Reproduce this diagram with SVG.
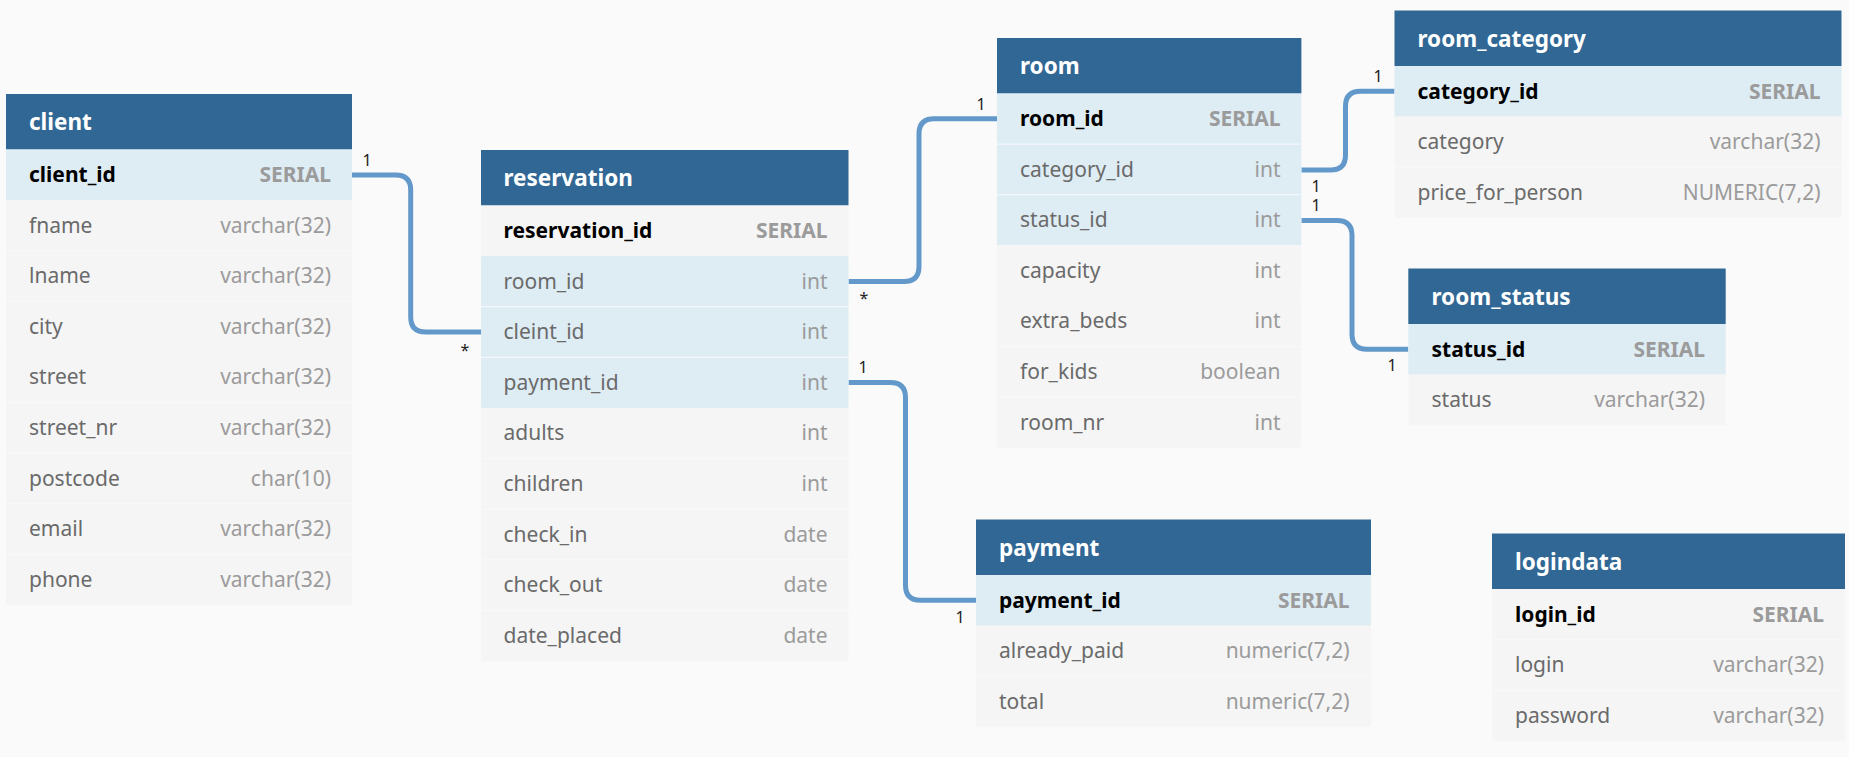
<svg xmlns="http://www.w3.org/2000/svg" width="1849" height="757" viewBox="0 0 1849 757">
<style>
  .bg{fill:#fafafa}
  .hd{fill:#316794}
  .row{fill:#f5f5f5}
  .hl{fill:#deecf4}
  .sep{stroke:#f9f9f9;stroke-width:1}
  .ht{font-family:"Noto Sans","Open Sans",sans-serif;font-size:22.5px;font-weight:bold;fill:#ffffff}
  .pk{font-family:"Noto Sans","Open Sans",sans-serif;font-size:21px;font-weight:bold;fill:#000000}
  .fn{font-family:"Noto Sans","Open Sans",sans-serif;font-size:21px;fill:#6a6a6a}
  .ty{font-family:"Noto Sans","Open Sans",sans-serif;font-size:21px;fill:#9b9b9b;text-anchor:end}
  .tyb{font-family:"Noto Sans","Open Sans",sans-serif;font-size:21px;font-weight:bold;fill:#9b9b9b;text-anchor:end}
  .conn{fill:none;stroke:#6399ca;stroke-width:5}
  .lbl{font-family:"Noto Sans","Open Sans",sans-serif;font-size:16px;fill:#222222;text-anchor:middle}
</style>
<rect class="bg" x="0" y="0" width="1849" height="757"/>

<g id="connectors">
  <path class="conn" d="M352,175 H395.7 Q410.7,175 410.7,190 V317 Q410.7,332 425.7,332 H481"/>
  <path class="conn" d="M848.5,281.4 H904 Q919,281.4 919,266.4 V133.8 Q919,118.8 934,118.8 H997"/>
  <path class="conn" d="M848.5,382.6 H890.5 Q905.5,382.6 905.5,397.6 V585.3 Q905.5,600.3 920.5,600.3 H976"/>
  <path class="conn" d="M1301.4,170 H1330.5 Q1345.5,170 1345.5,155 V106.3 Q1345.5,91.3 1360.5,91.3 H1394.5"/>
  <path class="conn" d="M1301.4,220.6 H1337 Q1352,220.6 1352,235.6 V334.3 Q1352,349.3 1367,349.3 H1408.3"/>
  <text class="lbl" x="367" y="166">1</text>
  <text class="lbl" x="465" y="356">*</text>
  <text class="lbl" x="864" y="304">*</text>
  <text class="lbl" x="863" y="373">1</text>
  <text class="lbl" x="981" y="110">1</text>
  <text class="lbl" x="1378" y="82">1</text>
  <text class="lbl" x="1316" y="192">1</text>
  <text class="lbl" x="1316" y="211">1</text>
  <text class="lbl" x="1392" y="371">1</text>
  <text class="lbl" x="960" y="623">1</text>
</g>

<g id="table-client">
  <rect class="hd" x="6" y="94" width="346" height="55.5"/>
  <rect class="hl" x="6" y="149.5" width="346" height="50.6"/>
  <rect class="row" x="6" y="200.1" width="346" height="404.8"/>
  <g class="sep">
    <line x1="6" x2="352" y1="250.7" y2="250.7"/><line x1="6" x2="352" y1="301.3" y2="301.3"/>
    <line x1="6" x2="352" y1="351.9" y2="351.9"/><line x1="6" x2="352" y1="402.5" y2="402.5"/>
    <line x1="6" x2="352" y1="453.1" y2="453.1"/><line x1="6" x2="352" y1="503.7" y2="503.7"/>
    <line x1="6" x2="352" y1="554.3" y2="554.3"/>
  </g>
  <text class="ht" x="29" y="130">client</text>
  <text class="pk" x="29" y="182">client_id</text><text class="tyb" x="331" y="182">SERIAL</text>
  <text class="fn" x="29" y="232.6">fname</text><text class="ty" x="331" y="232.6">varchar(32)</text>
  <text class="fn" x="29" y="283.2">lname</text><text class="ty" x="331" y="283.2">varchar(32)</text>
  <text class="fn" x="29" y="333.8">city</text><text class="ty" x="331" y="333.8">varchar(32)</text>
  <text class="fn" x="29" y="384.4">street</text><text class="ty" x="331" y="384.4">varchar(32)</text>
  <text class="fn" x="29" y="435">street_nr</text><text class="ty" x="331" y="435">varchar(32)</text>
  <text class="fn" x="29" y="485.6">postcode</text><text class="ty" x="331" y="485.6">char(10)</text>
  <text class="fn" x="29" y="536.2">email</text><text class="ty" x="331" y="536.2">varchar(32)</text>
  <text class="fn" x="29" y="586.8">phone</text><text class="ty" x="331" y="586.8">varchar(32)</text>
</g>

<g id="table-reservation">
  <rect class="hd" x="481" y="150" width="367.5" height="55.5"/>
  <rect class="row" x="481" y="205.5" width="367.5" height="50.6"/>
  <rect class="hl" x="481" y="256.1" width="367.5" height="151.8"/>
  <rect class="row" x="481" y="407.9" width="367.5" height="253"/>
  <g class="sep">
    <line x1="481" x2="848.5" y1="306.7" y2="306.7"/><line x1="481" x2="848.5" y1="357.3" y2="357.3"/>
    <line x1="481" x2="848.5" y1="458.5" y2="458.5"/><line x1="481" x2="848.5" y1="509.1" y2="509.1"/>
    <line x1="481" x2="848.5" y1="559.7" y2="559.7"/><line x1="481" x2="848.5" y1="610.3" y2="610.3"/>
  </g>
  <text class="ht" x="503.5" y="186">reservation</text>
  <text class="pk" x="503.5" y="238">reservation_id</text><text class="tyb" x="827.5" y="238">SERIAL</text>
  <text class="fn" x="503.5" y="288.6">room_id</text><text class="ty" x="827.5" y="288.6">int</text>
  <text class="fn" x="503.5" y="339.2">cleint_id</text><text class="ty" x="827.5" y="339.2">int</text>
  <text class="fn" x="503.5" y="389.8">payment_id</text><text class="ty" x="827.5" y="389.8">int</text>
  <text class="fn" x="503.5" y="440.4">adults</text><text class="ty" x="827.5" y="440.4">int</text>
  <text class="fn" x="503.5" y="491">children</text><text class="ty" x="827.5" y="491">int</text>
  <text class="fn" x="503.5" y="541.6">check_in</text><text class="ty" x="827.5" y="541.6">date</text>
  <text class="fn" x="503.5" y="592.2">check_out</text><text class="ty" x="827.5" y="592.2">date</text>
  <text class="fn" x="503.5" y="642.8">date_placed</text><text class="ty" x="827.5" y="642.8">date</text>
</g>

<g id="table-room">
  <rect class="hd" x="997" y="38" width="304.4" height="55.5"/>
  <rect class="hl" x="997" y="93.5" width="304.4" height="151.8"/>
  <rect class="row" x="997" y="245.3" width="304.4" height="202.4"/>
  <g class="sep">
    <line x1="997" x2="1301.4" y1="144.1" y2="144.1"/><line x1="997" x2="1301.4" y1="194.7" y2="194.7"/>
    <line x1="997" x2="1301.4" y1="295.9" y2="295.9"/><line x1="997" x2="1301.4" y1="346.5" y2="346.5"/>
    <line x1="997" x2="1301.4" y1="397.1" y2="397.1"/>
  </g>
  <text class="ht" x="1020" y="74">room</text>
  <text class="pk" x="1020" y="126">room_id</text><text class="tyb" x="1280.5" y="126">SERIAL</text>
  <text class="fn" x="1020" y="176.6">category_id</text><text class="ty" x="1280.5" y="176.6">int</text>
  <text class="fn" x="1020" y="227.2">status_id</text><text class="ty" x="1280.5" y="227.2">int</text>
  <text class="fn" x="1020" y="277.8">capacity</text><text class="ty" x="1280.5" y="277.8">int</text>
  <text class="fn" x="1020" y="328.4">extra_beds</text><text class="ty" x="1280.5" y="328.4">int</text>
  <text class="fn" x="1020" y="379">for_kids</text><text class="ty" x="1280.5" y="379">boolean</text>
  <text class="fn" x="1020" y="429.6">room_nr</text><text class="ty" x="1280.5" y="429.6">int</text>
</g>

<g id="table-room_category">
  <rect class="hd" x="1394.5" y="10.5" width="447" height="55.5"/>
  <rect class="hl" x="1394.5" y="66" width="447" height="50.6"/>
  <rect class="row" x="1394.5" y="116.6" width="447" height="101.2"/>
  <line class="sep" x1="1394.5" x2="1841.5" y1="167.2" y2="167.2"/>
  <text class="ht" x="1417.5" y="46.5">room_category</text>
  <text class="pk" x="1417.5" y="98.5">category_id</text><text class="tyb" x="1820.5" y="98.5">SERIAL</text>
  <text class="fn" x="1417.5" y="149.1">category</text><text class="ty" x="1820.5" y="149.1">varchar(32)</text>
  <text class="fn" x="1417.5" y="199.7">price_for_person</text><text class="ty" x="1820.5" y="199.7">NUMERIC(7,2)</text>
</g>

<g id="table-room_status">
  <rect class="hd" x="1408.3" y="268.5" width="317.4" height="55.5"/>
  <rect class="hl" x="1408.3" y="324" width="317.4" height="50.6"/>
  <rect class="row" x="1408.3" y="374.6" width="317.4" height="50.6"/>
  <text class="ht" x="1431.5" y="304.5">room_status</text>
  <text class="pk" x="1431.5" y="356.5">status_id</text><text class="tyb" x="1705" y="356.5">SERIAL</text>
  <text class="fn" x="1431.5" y="407.1">status</text><text class="ty" x="1705" y="407.1">varchar(32)</text>
</g>

<g id="table-payment">
  <rect class="hd" x="976" y="519.5" width="395" height="55.5"/>
  <rect class="hl" x="976" y="575" width="395" height="50.6"/>
  <rect class="row" x="976" y="625.6" width="395" height="101.2"/>
  <line class="sep" x1="976" x2="1371" y1="676.2" y2="676.2"/>
  <text class="ht" x="999" y="555.5">payment</text>
  <text class="pk" x="999" y="607.5">payment_id</text><text class="tyb" x="1349.5" y="607.5">SERIAL</text>
  <text class="fn" x="999" y="658.1">already_paid</text><text class="ty" x="1349.5" y="658.1">numeric(7,2)</text>
  <text class="fn" x="999" y="708.7">total</text><text class="ty" x="1349.5" y="708.7">numeric(7,2)</text>
</g>

<g id="table-logindata">
  <rect class="hd" x="1492" y="533.5" width="353" height="55.5"/>
  <rect class="row" x="1492" y="589" width="353" height="151.8"/>
  <line class="sep" x1="1492" x2="1845" y1="639.6" y2="639.6"/>
  <line class="sep" x1="1492" x2="1845" y1="690.2" y2="690.2"/>
  <text class="ht" x="1515" y="569.5">logindata</text>
  <text class="pk" x="1515" y="621.5">login_id</text><text class="tyb" x="1824" y="621.5">SERIAL</text>
  <text class="fn" x="1515" y="672.1">login</text><text class="ty" x="1824" y="672.1">varchar(32)</text>
  <text class="fn" x="1515" y="722.7">password</text><text class="ty" x="1824" y="722.7">varchar(32)</text>
</g>
</svg>
